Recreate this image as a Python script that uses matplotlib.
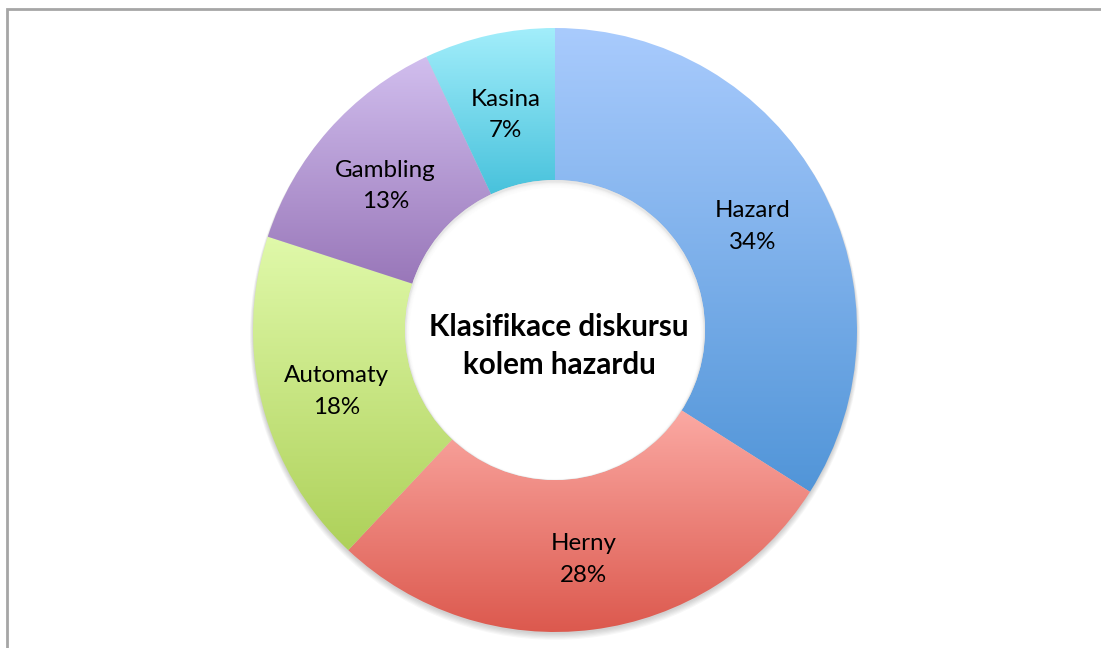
import numpy as np
import matplotlib
matplotlib.use('Agg')
import matplotlib.pyplot as plt
from matplotlib.colors import LinearSegmentedColormap
from matplotlib.patches import Circle

# Chart data
categories = ['Hazard', 'Herny', 'Automaty', 'Gambling', 'Kasina']
shares = [34, 28, 18, 13, 7]
title = 'Klasifikace diskursu\nkolem hazardu'

# gradient colours per slice (top, bottom)
top_colors = ['#A9CBFD', '#FBA9A3', '#E0F9AA', '#D1BEEE', '#A3EEFB']
bottom_colors = ['#5195D8', '#DC594E', '#AED15A', '#9977B9', '#48C2DC']

W, H = 1101, 648
cx, cy, R, r_in = 555, 330, 302, 150

plt.rcParams['font.family'] = ['Lato', 'DejaVu Sans']

fig = plt.figure(figsize=(W / 100, H / 100), dpi=100)

# frame of the chart area
frame = fig.add_axes([0, 0, 1, 1])
frame.set_xlim(0, W)
frame.set_ylim(H, 0)
frame.axis('off')
frame.plot([7, 7, W + 5], [H + 5, 9, 9], color='#a6a6a6', lw=2, solid_joinstyle='miter')

ax = fig.add_axes([(cx - R) / W, (H - cy - R) / H, 2 * R / W, 2 * R / H])

inner = r_in / R
ring = 1 - inner

wedges, _ = ax.pie(shares, startangle=90, counterclock=False, radius=1,
                   wedgeprops=dict(width=ring, edgecolor='none'))

# soft outer shadow
for k in range(6):
    ax.add_patch(Circle((0, -0.006 - 0.002 * k), 1 + 0.002 * k, color='#000000',
                        alpha=0.03, lw=0, clip_on=False, zorder=0))

grad = np.linspace(0, 1, 256).reshape(-1, 1)
for w, c0, c1 in zip(wedges, top_colors, bottom_colors):
    w.set_facecolor('none')
    ext = w.get_path().get_extents()
    cmap = LinearSegmentedColormap.from_list('g', [c0, c1])
    im = ax.imshow(grad, cmap=cmap, aspect='auto', origin='upper',
                   extent=(ext.x0, ext.x1, ext.y0, ext.y1), zorder=1,
                   interpolation='bilinear')
    im.set_clip_path(w)
ax.set_xlim(-1, 1)
ax.set_ylim(-1, 1)
ax.set_aspect('equal')
ax.axis('off')

# hole with soft inner shadow
hole = Circle((0, 0), inner, color='#e6e6e6', lw=0, zorder=2)
ax.add_patch(hole)
for k in range(8):
    c = Circle((0, -0.004 - 0.001 * k), inner - 0.004 - 0.0015 * k, color='white',
               alpha=0.35 if k < 7 else 1, lw=0, zorder=2.1 + k * 0.01)
    ax.add_patch(c)
    c.set_clip_path(hole)

# slice labels
label_r = (1 + inner) / 2
for w, name, val in zip(wedges, categories, shares):
    ang = np.deg2rad((w.theta1 + w.theta2) / 2)
    ax.text(label_r * np.cos(ang), label_r * np.sin(ang) - 0.018, f'{name}\n{val}%',
            ha='center', va='center', fontsize=17.4, linespacing=1.62,
            color='black', zorder=5)

ax.text(0.013, -0.053, title, ha='center', va='center', fontsize=21.3,
        fontweight='bold', linespacing=1.4, color='black', zorder=5)

fig.savefig('out.png', dpi=100)
